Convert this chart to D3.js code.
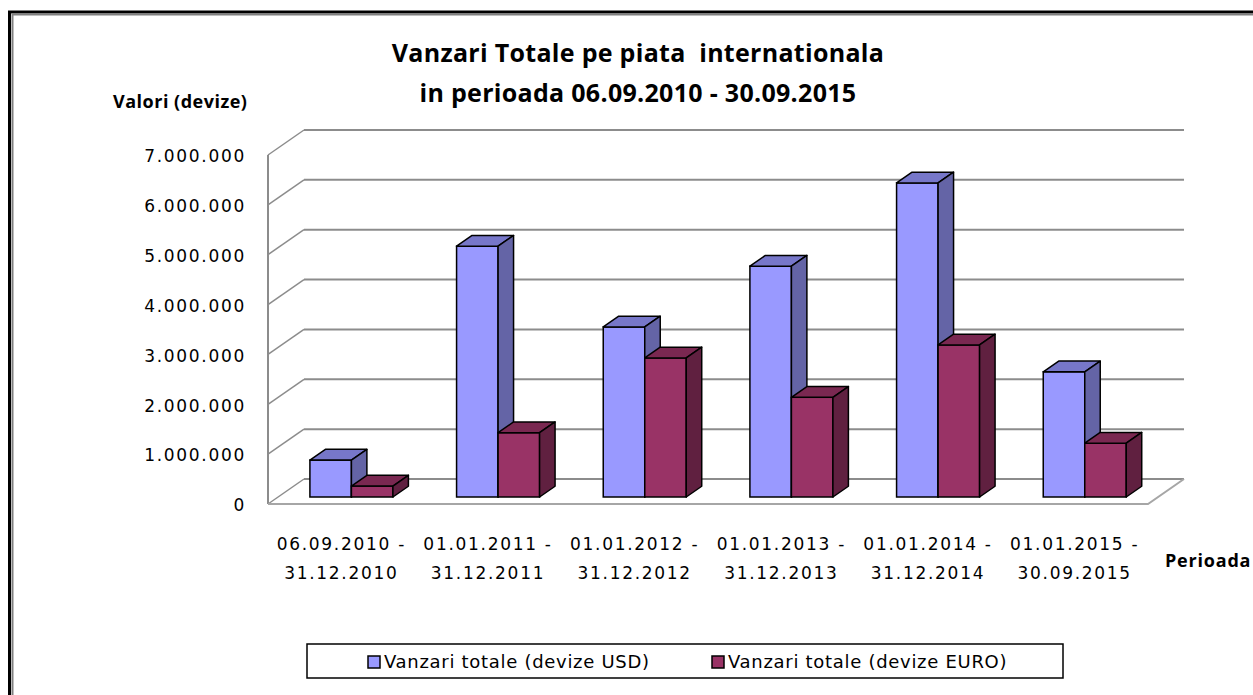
<!DOCTYPE html>
<html>
<head>
<meta charset="utf-8">
<script src="https://cdn.jsdelivr.net/npm/d3@7"></script>
<style>
  html, body { margin: 0; padding: 0; background: #fff; }
  svg { display: block; }
</style>
</head>
<body>
<div id="chart"></div>
<script>
// Chart data
const periods = [
  '06.09.2010 - 31.12.2010',
  '01.01.2011 - 31.12.2011',
  '01.01.2012 - 31.12.2012',
  '01.01.2013 - 31.12.2013',
  '01.01.2014 - 31.12.2014',
  '01.01.2015 - 30.09.2015',
];
const seriesNames = ['Vanzari totale (devize USD)', 'Vanzari totale (devize EURO)'];
const usdValues = [740000, 5030000, 3410000, 4630000, 6300000, 2510000];
const euroValues = [220000, 1290000, 2790000, 2000000, 3050000, 1080000];
const yTicks = [0, 1000000, 2000000, 3000000, 4000000, 5000000, 6000000, 7000000];

const titleLines = ['Vanzari Totale pe piata  internationala', 'in perioada 06.09.2010 - 30.09.2015'];
const yAxisTitle = 'Valori (devize)';
const xAxisTitle = 'Perioada';

const colors = {
  usd: { front: '#9999ff', top: '#7777c9', side: '#6464a6' },
  euro: { front: '#993366', top: '#7a2851', side: '#602040' },
};

const width = 1253;
const height = 695;
// oblique projection: full floor depth
const depthX = 36;
const depthY = -25;
const barF0 = 0.28;
const barF1 = 0.71;

const svg = d3.select('#chart')
  .append('svg')
  .attr('width', width)
  .attr('height', height);

// outer chart border
svg.append('rect')
  .attr('x', 9.5).attr('y', 12)
  .attr('width', width + 10).attr('height', height + 10)
  .attr('fill', 'none').attr('stroke', '#000').attr('stroke-width', 3);
svg.append('path')
  .attr('d', `M12.5,${height} V14.5 H${width}`)
  .attr('fill', 'none').attr('stroke', '#808080').attr('stroke-width', 2);

// scales
const y = d3.scaleLinear().domain([0, 7000000]).range([504, 155]);
const x0 = d3.scaleBand()
  .domain(periods)
  .range([268, 1148])
  .paddingInner(0.434)
  .paddingOuter(0.217);
const x1 = d3.scaleBand().domain(seriesNames).range([0, x0.bandwidth()]);

const data = periods.map((p, i) => ({
  period: p,
  values: [
    { name: seriesNames[0], value: usdValues[i], col: colors.usd },
    { name: seriesNames[1], value: euroValues[i], col: colors.euro },
  ],
}));

// walls and gridlines
const grid = svg.append('g').attr('class', 'grid');
const gridColor = '#8c8c8c';

grid.selectAll('line.back')
  .data(yTicks)
  .enter()
  .append('line')
  .attr('class', 'back')
  .attr('x1', 268 + depthX)
  .attr('x2', 1148 + depthX)
  .attr('y1', (d) => y(d) + depthY)
  .attr('y2', (d) => y(d) + depthY)
  .attr('stroke', gridColor)
  .attr('stroke-width', 2);

grid.selectAll('line.side')
  .data(yTicks)
  .enter()
  .append('line')
  .attr('class', 'side')
  .attr('x1', 268)
  .attr('x2', 268 + depthX)
  .attr('y1', (d) => y(d))
  .attr('y2', (d) => y(d) + depthY)
  .attr('stroke', gridColor)
  .attr('stroke-width', 1.5);

grid.append('line')
  .attr('x1', 268).attr('x2', 268)
  .attr('y1', y(0)).attr('y2', y(7000000))
  .attr('stroke', gridColor)
  .attr('stroke-width', 2);

// floor outline
grid.append('path')
  .attr('d', `M268,${y(0)} H1148 L${1148 + depthX},${y(0) + depthY}`)
  .attr('fill', 'none')
  .attr('stroke', '#a6a6a6')
  .attr('stroke-width', 2);

// 3D bars
const bw = x1.bandwidth();
const fx = depthX * barF0;
const fy = depthY * barF0;
const dx = depthX * (barF1 - barF0);
const dy = depthY * (barF1 - barF0);

const groups = svg.append('g')
  .selectAll('g')
  .data(data)
  .enter()
  .append('g');

const bars = groups.selectAll('g')
  .data((d) => d.values.map((v) => ({ ...v, period: d.period })))
  .enter()
  .append('g');

function barGeom(d) {
  const x = x0(d.period) + x1(d.name) + fx;
  const top = y(d.value) + fy;
  const bottom = y(0) + fy;
  return { x, top, bottom };
}

bars.append('rect')
  .attr('x', (d) => barGeom(d).x)
  .attr('y', (d) => barGeom(d).top)
  .attr('width', bw)
  .attr('height', (d) => barGeom(d).bottom - barGeom(d).top)
  .attr('fill', (d) => d.col.front)
  .attr('stroke', '#000')
  .attr('stroke-width', 1.5);

bars.append('path')
  .attr('d', (d) => {
    const g = barGeom(d);
    return `M${g.x},${g.top} L${g.x + bw},${g.top} L${g.x + bw + dx},${g.top + dy} L${g.x + dx},${g.top + dy} Z`;
  })
  .attr('fill', (d) => d.col.top)
  .attr('stroke', '#000')
  .attr('stroke-width', 1.5)
  .attr('stroke-linejoin', 'round');

bars.append('path')
  .attr('d', (d) => {
    const g = barGeom(d);
    return `M${g.x + bw},${g.top} L${g.x + bw + dx},${g.top + dy} L${g.x + bw + dx},${g.bottom + dy} L${g.x + bw},${g.bottom} Z`;
  })
  .attr('fill', (d) => d.col.side)
  .attr('stroke', '#000')
  .attr('stroke-width', 1.5)
  .attr('stroke-linejoin', 'round');

// y axis labels
const fmt = d3.formatLocale({
  decimal: ',', thousands: '.', grouping: [3], currency: ['', ''],
}).format(',d');

const yAxis = d3.axisLeft(y)
  .tickValues(yTicks)
  .tickFormat(fmt)
  .tickSize(0)
  .tickPadding(0);

svg.append('g')
  .attr('transform', 'translate(246,0)')
  .call(yAxis)
  .call((g) => g.select('.domain').remove())
  .selectAll('text')
  .attr('dy', '0.4em')
  .style('font-family', '"DejaVu Sans", sans-serif')
  .style('font-size', '17px')
  .style('letter-spacing', '1.7px')
  .style('fill', '#000');

// x axis labels (two lines each)
const xAxis = d3.axisBottom(x0).tickSize(0).tickPadding(0);

const xg = svg.append('g')
  .attr('transform', `translate(0,${y(0)})`)
  .call(xAxis)
  .call((g) => g.select('.domain').remove());

xg.selectAll('text')
  .text(null)
  .attr('y', 0)
  .attr('dy', null)
  .style('font-family', '"DejaVu Sans", sans-serif')
  .style('font-size', '17px')
  .style('letter-spacing', '1.7px')
  .style('fill', '#000')
  .selectAll('tspan')
  .data((d) => {
    const parts = d.split(' - ');
    return [parts[0] + ' -', parts[1]];
  })
  .enter()
  .append('tspan')
  .attr('x', 0)
  .attr('y', (d, i) => 46 + i * 29)
  .text((d) => d);

// titles
svg.append('g')
  .selectAll('text')
  .data(titleLines)
  .enter()
  .append('text')
  .attr('x', 638)
  .attr('y', (d, i) => 62 + i * 40)
  .attr('text-anchor', 'middle')
  .style('white-space', 'pre')
  .style('font-family', '"Open Sans", sans-serif')
  .style('font-weight', 700)
  .style('font-size', '25px')
  .style('letter-spacing', '0.3px')
  .text((d) => d);

svg.append('text')
  .attr('x', 113)
  .attr('y', 108)
  .style('font-family', '"Open Sans", sans-serif')
  .style('font-weight', 700)
  .style('font-size', '18px')
  .style('letter-spacing', '0.5px')
  .text(yAxisTitle);

svg.append('text')
  .attr('x', 1165)
  .attr('y', 567)
  .style('font-family', '"Open Sans", sans-serif')
  .style('font-weight', 700)
  .style('font-size', '18px')
  .style('letter-spacing', '0.8px')
  .text(xAxisTitle);

// legend
const legend = svg.append('g').attr('class', 'legend');
legend.append('rect')
  .attr('x', 307).attr('y', 644)
  .attr('width', 756).attr('height', 34)
  .attr('fill', '#fff')
  .attr('stroke', '#000')
  .attr('stroke-width', 1.5);

const legendX = [368, 712];
const legendItems = legend.selectAll('g.item')
  .data(seriesNames)
  .enter()
  .append('g')
  .attr('class', 'item')
  .attr('transform', (d, i) => `translate(${legendX[i]},656)`);

legendItems.append('rect')
  .attr('width', 12)
  .attr('height', 12)
  .attr('fill', (d, i) => (i === 0 ? colors.usd.front : colors.euro.front))
  .attr('stroke', '#000')
  .attr('stroke-width', 1.5);

legendItems.append('text')
  .attr('x', 16)
  .attr('y', 12)
  .style('font-family', '"DejaVu Sans", sans-serif')
  .style('font-size', '18px')
  .style('letter-spacing', '0.7px')
  .text((d) => d);
</script>
</body>
</html>
